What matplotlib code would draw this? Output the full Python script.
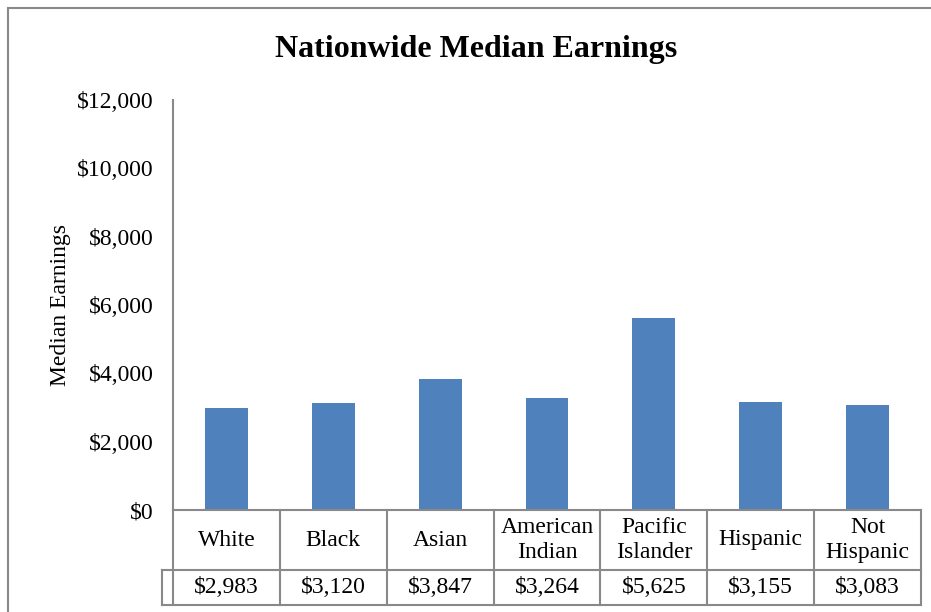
import matplotlib.pyplot as plt
from matplotlib.transforms import blended_transform_factory
from matplotlib.patches import Rectangle
from matplotlib.ticker import FuncFormatter

# data
categories = ["White", "Black", "Asian", "American\nIndian", "Pacific\nIslander", "Hispanic", "Not\nHispanic"]
earnings = [2983, 3120, 3847, 3264, 5625, 3155, 3083]
value_labels = ["$2,983", "$3,120", "$3,847", "$3,264", "$5,625", "$3,155", "$3,083"]
yticks = [0, 2000, 4000, 6000, 8000, 10000, 12000]

plt.rcParams['font.family'] = ['Liberation Serif', 'DejaVu Serif']
W, H = 931, 612
grey = '#898989'
fs = 17

fig = plt.figure(figsize=(W / 100, H / 100), dpi=100)
ax = fig.add_axes([173 / W, 1 - 510 / H, (921 - 173) / W, 410 / H])

x = list(range(len(categories)))
ax.bar(x, earnings, width=0.4, color='#4F81BD', zorder=2)
ax.set_xlim(-0.5, len(categories) - 0.5)
ax.set_ylim(0, 12000)
ax.set_yticks(yticks)
ax.yaxis.set_major_formatter(FuncFormatter(lambda v, p: f"${v:,.0f}"))
ax.tick_params(axis='y', length=0, pad=14, labelsize=fs)
ax.set_xticks([])
for s in ['top', 'right']:
    ax.spines[s].set_visible(False)
ax.spines['left'].set_color(grey)
ax.spines['bottom'].set_color(grey)
ax.spines['left'].set_linewidth(1.5)
ax.spines['bottom'].set_linewidth(1.5)
ax.set_ylabel("Median Earnings", fontsize=fs, labelpad=4)

# data table under the axis
tr = blended_transform_factory(ax.transData, fig.transFigure)
def fy(py):
    return 1 - py / H

r0, r1, r2 = fy(510), fy(570), fy(605)
left = -0.5
right = len(categories) - 0.5
key_left = left - 11 / ((921 - 173) / len(categories))
lk = dict(color=grey, lw=1.5, transform=tr, clip_on=False)
ax.plot([key_left, right], [r1, r1], **lk)
ax.plot([key_left, right], [r2, r2], **lk)
ax.plot([key_left, key_left], [r1, r2], **lk)
for i in range(len(categories) + 1):
    ax.plot([left + i, left + i], [r0, r2], **lk)

for i, (c, v) in enumerate(zip(categories, value_labels)):
    ax.text(i, (r0 + r1) / 2, c, ha='center', va='center', fontsize=fs,
            transform=tr, linespacing=1.25)
    ax.text(i, (r1 + r2) / 2, v, ha='center', va='center', fontsize=fs,
            transform=tr)

fig.text(476 / W, fy(50), "Nationwide Median Earnings", ha='center', va='center',
         fontsize=23, fontweight='bold')

# chart frame
fig.patches.append(Rectangle((8 / W, -0.1), 1.2, fy(8) + 0.1, transform=fig.transFigure,
                             fill=False, edgecolor=grey, lw=1.5))

fig.savefig("out.png", dpi=100)
